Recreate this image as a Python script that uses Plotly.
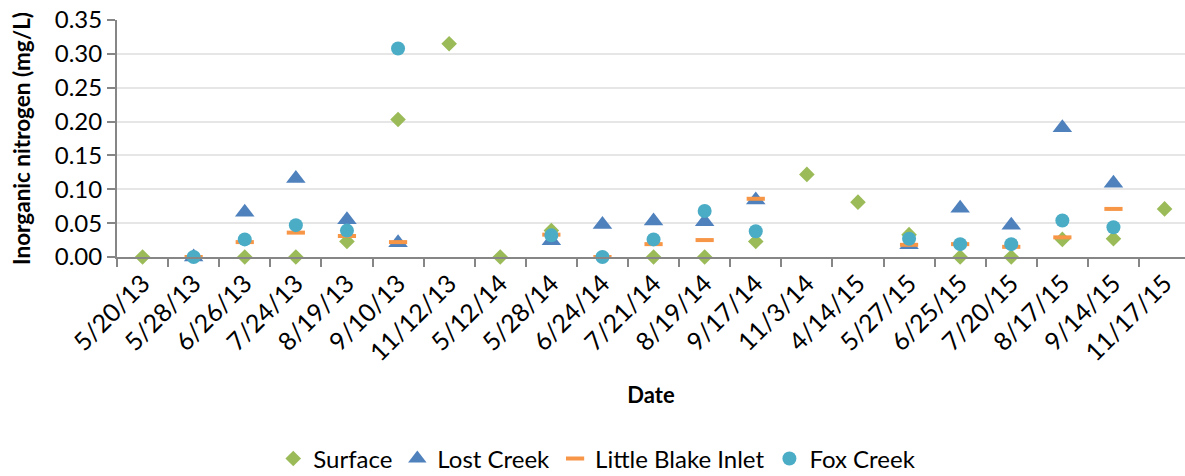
import plotly.graph_objects as go

# sampling dates (categories)
dates = ["5/20/13", "5/28/13", "6/26/13", "7/24/13", "8/19/13", "9/10/13",
         "11/12/13", "5/12/14", "5/28/14", "6/24/14", "7/21/14", "8/19/14",
         "9/17/14", "11/3/14", "4/14/15", "5/27/15", "6/25/15", "7/20/15",
         "8/17/15", "9/14/15", "11/17/15"]

# inorganic nitrogen (mg/L); None = no sample
surface = [0.0, None, 0.0, 0.0, 0.023, 0.203,
           0.315, 0.0, 0.039, None, 0.0, 0.0,
           0.023, 0.122, 0.081, 0.033, 0.0, 0.0,
           0.026, 0.027, 0.071]
lost_creek = [None, 0.0, 0.066, 0.116, 0.055, 0.021,
              None, None, 0.024, 0.048, 0.053, 0.052,
              0.084, None, None, 0.018, 0.072, 0.047,
              0.191, 0.109, None]
little_blake = [None, 0.0, 0.022, 0.036, 0.031, 0.022,
                None, None, 0.033, 0.0, 0.019, 0.025,
                0.086, None, None, 0.018, 0.019, 0.015,
                0.029, 0.071, None]
fox_creek = [None, 0.0, 0.026, 0.047, 0.039, 0.308,
             None, None, 0.032, 0.0, 0.026, 0.068,
             0.038, None, None, 0.027, 0.019, 0.019,
             0.054, 0.044, None]

FONT = "Lato"
AXIS = "#868686"

fig = go.Figure()
fig.add_trace(go.Scatter(x=dates, y=surface, name="Surface", mode="markers",
                         cliponaxis=False,
                         marker=dict(symbol="diamond", size=12, color="#9BBB59")))
fig.add_trace(go.Scatter(x=dates, y=lost_creek, name="Lost Creek", mode="markers",
                         cliponaxis=False,
                         marker=dict(symbol="triangle-up", size=17, color="#4F81BD")))
fig.add_trace(go.Scatter(x=dates, y=little_blake, name="Little Blake Inlet", mode="markers",
                         cliponaxis=False,
                         marker=dict(symbol="line-ew", size=13,
                                     line=dict(color="#F79646", width=4))))
fig.add_trace(go.Scatter(x=dates, y=fox_creek, name="Fox Creek", mode="markers",
                         cliponaxis=False,
                         marker=dict(symbol="circle", size=14, color="#4BACC6")))

fig.update_layout(
    width=1185, height=476,
    margin=dict(l=117, r=0, t=20, b=219, autoexpand=False),
    paper_bgcolor="white", plot_bgcolor="white",
    font=dict(family=FONT, size=23, color="black"),
    showlegend=True,
    legend=dict(orientation="h", xref="container", yref="container",
                x=0.504, y=0.036, xanchor="center", yanchor="middle",
                font=dict(size=24), itemwidth=30, tracegroupgap=0),
)
fig.update_xaxes(
    type="category", range=[-0.5, 20.4], automargin=False,
    showline=True, linecolor=AXIS, linewidth=2,
    ticks="outside", tickson="boundaries", ticklen=8, tickcolor=AXIS, tickwidth=2,
    tickangle=-45, showgrid=False, tickfont=dict(size=25),
    title=dict(text="<b>Date</b>", font=dict(size=22), standoff=22),
)
fig.update_yaxes(
    range=[0, 0.35], dtick=0.05, tickformat=".2f", automargin=False,
    showline=True, linecolor=AXIS, linewidth=2,
    ticks="outside", ticklen=8, tickcolor=AXIS, tickwidth=2,
    showgrid=True, gridcolor="#E6E6E6", gridwidth=2, zeroline=False,
    tickfont=dict(size=24),
    title=dict(text="<b>Inorganic nitrogen (mg/L)</b>", font=dict(size=22.5), standoff=18),
)

# drop the default 8px body margin so the figure fills the window exactly
fig.write_html("out.html", config={"displayModeBar": False},
               post_script="document.body.style.margin='0';")
